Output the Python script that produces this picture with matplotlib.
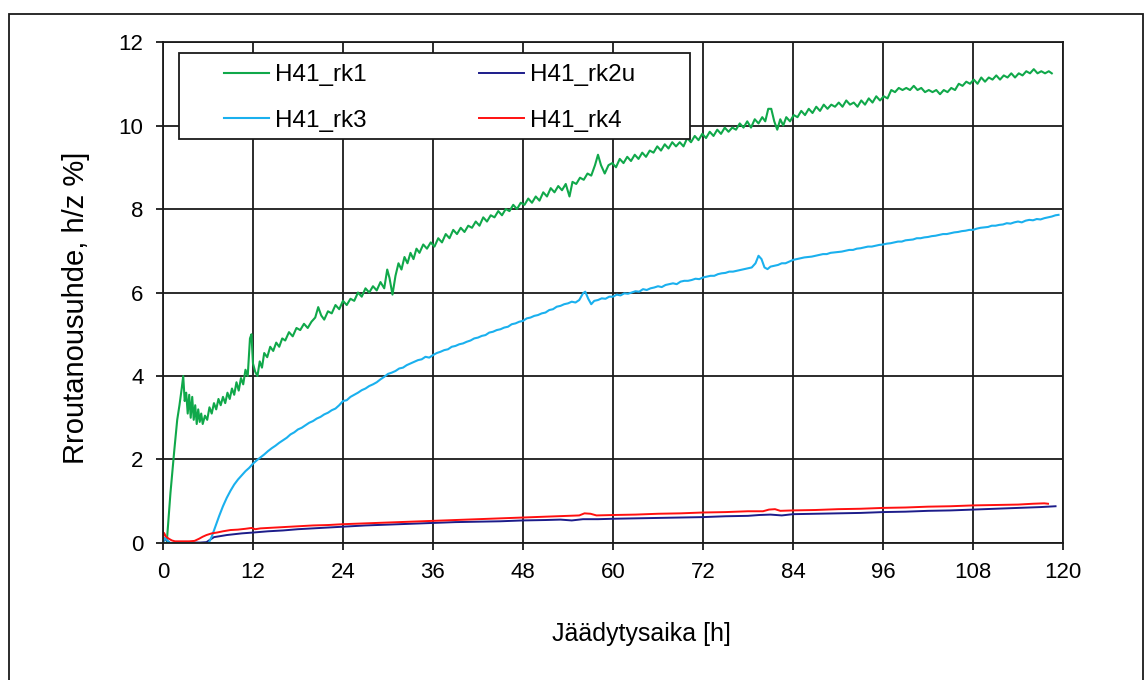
import matplotlib.pyplot as plt
from matplotlib.patches import Rectangle

# H41_rk1
rk1_x = [0.2, 0.5, 1.0, 1.5, 1.9, 2.2, 2.5, 2.7, 2.9, 3.1, 3.3, 3.5, 3.7, 3.9, 4.1, 4.3, 4.5, 4.7, 4.9, 5.1,
         5.3, 5.6, 5.9, 6.2, 6.5, 6.8, 7.1, 7.4, 7.7, 8.0, 8.3, 8.6, 8.9, 9.2, 9.5, 9.8, 10.1, 10.4, 10.7, 11.0,
         11.3, 11.6, 11.8, 12.0, 12.3, 12.6, 12.9, 13.2, 13.5, 13.9, 14.3, 14.7, 15.1, 15.5, 15.9, 16.3, 16.8, 17.3, 17.8, 18.3,
         18.8, 19.3, 19.8, 20.3, 20.7, 21.1, 21.5, 22.0, 22.5, 23.0, 23.5, 24.0, 24.5, 25.0, 25.5, 26.0, 26.5, 27.0, 27.5, 28.0,
         28.5, 29.0, 29.5, 29.9, 30.2, 30.6, 31.0, 31.4, 31.8, 32.2, 32.6, 33.0, 33.4, 33.8, 34.2, 34.7, 35.2, 35.7, 36.2, 36.7,
         37.2, 37.7, 38.2, 38.7, 39.2, 39.7, 40.2, 40.7, 41.2, 41.7, 42.2, 42.7, 43.2, 43.7, 44.2, 44.7, 45.2, 45.7, 46.2, 46.7,
         47.2, 47.7, 48.2, 48.7, 49.2, 49.7, 50.2, 50.7, 51.2, 51.7, 52.2, 52.7, 53.2, 53.7, 54.2, 54.6, 55.1, 55.6, 56.1, 56.6,
         57.1, 57.6, 58.0, 58.4, 58.9, 59.4, 59.9, 60.4, 60.9, 61.4, 61.9, 62.4, 62.9, 63.4, 63.9, 64.4, 64.9, 65.4, 65.9, 66.4,
         66.9, 67.4, 67.9, 68.4, 68.9, 69.4, 69.9, 70.4, 70.9, 71.4, 71.9, 72.4, 72.9, 73.4, 73.9, 74.4, 74.9, 75.4, 75.9, 76.4,
         76.9, 77.4, 77.9, 78.4, 78.9, 79.4, 79.9, 80.3, 80.7, 81.1, 81.5, 81.9, 82.3, 82.7, 83.1, 83.6, 84.1, 84.6, 85.1, 85.6,
         86.1, 86.6, 87.1, 87.6, 88.1, 88.6, 89.1, 89.6, 90.1, 90.6, 91.1, 91.6, 92.1, 92.6, 93.1, 93.6, 94.1, 94.6, 95.1, 95.6,
         96.1, 96.6, 97.1, 97.6, 98.1, 98.6, 99.1, 99.6, 100.1, 100.6, 101.1, 101.6, 102.1, 102.6, 103.1, 103.6, 104.1, 104.6, 105.1, 105.6,
         106.1, 106.6, 107.1, 107.6, 108.1, 108.6, 109.1, 109.6, 110.1, 110.6, 111.1, 111.6, 112.1, 112.6, 113.1, 113.6, 114.1, 114.6, 115.1, 115.6,
         116.1, 116.6, 117.1, 117.6, 118.1, 118.5]
rk1_y = [-0.05, 0.0, 1.2, 2.2, 2.95, 3.3, 3.7, 4.0, 3.4, 3.6, 3.1, 3.55, 3.0, 3.5, 2.95, 3.3, 2.85, 3.2, 2.9, 3.1,
         2.85, 3.05, 2.95, 3.25, 3.1, 3.35, 3.2, 3.45, 3.3, 3.5, 3.35, 3.6, 3.45, 3.7, 3.55, 3.85, 3.65, 3.95, 3.8, 4.15,
         4.0, 4.9, 5.0, 4.3, 4.1, 4.0, 4.35, 4.2, 4.55, 4.45, 4.7, 4.6, 4.8, 4.7, 4.9, 4.85, 5.05, 4.95, 5.15, 5.1,
         5.25, 5.15, 5.3, 5.4, 5.65, 5.45, 5.35, 5.55, 5.5, 5.7, 5.6, 5.8, 5.7, 5.85, 5.8, 6.0, 5.9, 6.1, 6.0, 6.15,
         6.05, 6.25, 6.1, 6.55, 6.35, 5.95, 6.4, 6.7, 6.55, 6.85, 6.7, 6.95, 6.8, 7.05, 6.95, 7.15, 7.05, 7.2, 7.1, 7.3,
         7.2, 7.4, 7.3, 7.5, 7.4, 7.55, 7.45, 7.6, 7.55, 7.7, 7.6, 7.8, 7.7, 7.85, 7.8, 7.95, 7.85, 8.0, 7.95, 8.1,
         8.0, 8.15, 8.1, 8.25, 8.15, 8.3, 8.2, 8.4, 8.3, 8.5, 8.4, 8.55, 8.45, 8.6, 8.3, 8.65, 8.6, 8.75, 8.7, 8.85,
         8.8, 9.05, 9.3, 9.05, 8.85, 9.05, 9.1, 9.0, 9.2, 9.1, 9.25, 9.15, 9.3, 9.2, 9.35, 9.25, 9.4, 9.35, 9.5, 9.4,
         9.55, 9.45, 9.6, 9.5, 9.6, 9.5, 9.7, 9.6, 9.75, 9.65, 9.8, 9.7, 9.85, 9.75, 9.9, 9.8, 9.95, 9.85, 9.95, 9.9,
         10.05, 9.95, 10.1, 9.95, 10.15, 10.05, 10.2, 10.1, 10.4, 10.4, 10.1, 9.9, 10.15, 10.0, 10.2, 10.1, 10.25, 10.2, 10.35, 10.25,
         10.4, 10.3, 10.45, 10.35, 10.5, 10.4, 10.5, 10.45, 10.55, 10.45, 10.6, 10.5, 10.55, 10.45, 10.6, 10.5, 10.65, 10.55, 10.7, 10.6,
         10.7, 10.65, 10.85, 10.8, 10.9, 10.85, 10.9, 10.85, 10.95, 10.85, 10.9, 10.8, 10.85, 10.8, 10.85, 10.75, 10.85, 10.8, 10.9, 10.85,
         11.0, 10.95, 11.05, 11.0, 11.1, 11.0, 11.15, 11.05, 11.15, 11.1, 11.2, 11.1, 11.2, 11.15, 11.25, 11.15, 11.25, 11.2, 11.3, 11.25,
         11.35, 11.25, 11.3, 11.25, 11.3, 11.25]

# H41_rk2u
rk2u_x = [0.0, 0.3, 0.7, 1.2, 2.0, 3.0, 4.0, 5.0, 5.8, 6.3, 6.8, 7.5, 8.5, 9.5, 10.5, 12.0, 14.0, 16.0, 18.0, 20.0,
          22.0, 24.0, 27.0, 30.0, 33.0, 36.0, 39.0, 42.0, 45.0, 48.0, 51.0, 53.0, 54.5, 56.0, 58.0, 60.0, 63.0, 66.0, 69.0, 72.0,
          75.0, 78.0, 79.5, 81.0, 82.5, 84.0, 87.0, 90.0, 93.0, 96.0, 99.0, 102.0, 105.0, 108.0, 111.0, 114.0, 117.0, 119.0]
rk2u_y = [0.02, 0.1, 0.03, -0.02, 0.0, 0.01, 0.01, 0.01, 0.02, 0.08, 0.14, 0.16, 0.19, 0.21, 0.23, 0.25, 0.28, 0.3, 0.33, 0.35,
          0.37, 0.39, 0.42, 0.44, 0.46, 0.48, 0.5, 0.51, 0.52, 0.54, 0.55, 0.56, 0.54, 0.57, 0.57, 0.58, 0.59, 0.6, 0.61, 0.62,
          0.64, 0.65, 0.67, 0.68, 0.66, 0.69, 0.7, 0.71, 0.72, 0.74, 0.75, 0.77, 0.78, 0.8, 0.82, 0.84, 0.86, 0.88]

# H41_rk3
rk3_x = [0.0, 0.2, 0.5, 0.9, 1.5, 3.0, 4.5, 5.5, 6.1, 6.5, 7.0, 7.5, 8.0, 8.5, 9.0, 9.5, 10.0, 10.5, 11.0, 11.5,
         12.0, 12.5, 13.0, 13.5, 14.0, 14.5, 15.0, 15.5, 16.0, 16.5, 17.0, 17.5, 18.0, 18.5, 19.0, 19.5, 20.0, 20.5, 21.0, 21.5,
         22.0, 22.5, 23.0, 23.5, 24.0, 24.5, 25.0, 25.5, 26.0, 26.5, 27.0, 27.5, 28.0, 28.5, 29.0, 29.5, 30.0, 30.5, 31.0, 31.5,
         32.0, 32.5, 33.0, 33.5, 34.0, 34.5, 35.0, 35.5, 36.0, 36.5, 37.0, 37.5, 38.0, 38.5, 39.0, 39.5, 40.0, 40.5, 41.0, 41.5,
         42.0, 42.5, 43.0, 43.5, 44.0, 44.5, 45.0, 45.5, 46.0, 46.5, 47.0, 47.5, 48.0, 48.5, 49.0, 49.5, 50.0, 50.5, 51.0, 51.5,
         52.0, 52.5, 53.0, 53.5, 54.0, 54.5, 55.0, 55.5, 56.0, 56.3, 56.7, 57.1, 57.5, 58.0, 58.5, 59.0, 59.5, 60.0, 60.5, 61.0,
         61.5, 62.0, 62.5, 63.0, 63.5, 64.0, 64.5, 65.0, 65.5, 66.0, 66.5, 67.0, 67.5, 68.0, 68.5, 69.0, 69.5, 70.0, 70.5, 71.0,
         71.5, 72.0, 72.5, 73.0, 73.5, 74.0, 74.5, 75.0, 75.5, 76.0, 76.5, 77.0, 77.5, 78.0, 78.5, 79.0, 79.4, 79.8, 80.2, 80.6,
         81.0, 81.5, 82.0, 82.5, 83.0, 83.5, 84.0, 84.5, 85.0, 85.5, 86.0, 86.5, 87.0, 87.5, 88.0, 88.5, 89.0, 89.5, 90.0, 90.5,
         91.0, 91.5, 92.0, 92.5, 93.0, 93.5, 94.0, 94.5, 95.0, 95.5, 96.0, 96.5, 97.0, 97.5, 98.0, 98.5, 99.0, 99.5, 100.0, 100.5,
         101.0, 101.5, 102.0, 102.5, 103.0, 103.5, 104.0, 104.5, 105.0, 105.5, 106.0, 106.5, 107.0, 107.5, 108.0, 108.5, 109.0, 109.5, 110.0, 110.5,
         111.0, 111.5, 112.0, 112.5, 113.0, 113.5, 114.0, 114.5, 115.0, 115.5, 116.0, 116.5, 117.0, 117.5, 118.0, 118.5, 119.0, 119.4]
rk3_y = [0.0, 0.12, 0.08, 0.0, 0.0, 0.0, -0.01, -0.02, 0.0, 0.15, 0.4, 0.65, 0.88, 1.08, 1.25, 1.4, 1.52, 1.62, 1.72, 1.8,
         1.9, 1.98, 2.05, 2.12, 2.2, 2.27, 2.33, 2.4, 2.46, 2.52, 2.6, 2.65, 2.72, 2.76, 2.82, 2.88, 2.92, 2.98, 3.02, 3.08,
         3.12, 3.18, 3.22, 3.3, 3.4, 3.42, 3.5, 3.55, 3.6, 3.66, 3.7, 3.76, 3.8, 3.85, 3.92, 3.98, 4.05, 4.08, 4.12, 4.18,
         4.2, 4.26, 4.3, 4.34, 4.38, 4.4, 4.46, 4.44, 4.5, 4.55, 4.58, 4.62, 4.64, 4.7, 4.72, 4.76, 4.78, 4.82, 4.85, 4.9,
         4.92, 4.96, 4.98, 5.04, 5.06, 5.1, 5.12, 5.16, 5.18, 5.24, 5.26, 5.3, 5.32, 5.38, 5.4, 5.44, 5.46, 5.5, 5.52, 5.58,
         5.6, 5.66, 5.68, 5.72, 5.74, 5.78, 5.76, 5.82, 5.98, 6.02, 5.85, 5.72, 5.8, 5.82, 5.86, 5.85, 5.9, 5.9, 5.95, 5.93,
         5.98, 5.97, 6.0, 6.03, 6.02, 6.08, 6.06, 6.1, 6.12, 6.15, 6.13, 6.18, 6.2, 6.22, 6.2, 6.26, 6.28, 6.28, 6.3, 6.33,
         6.32, 6.36, 6.38, 6.4, 6.4, 6.44, 6.46, 6.47, 6.5, 6.5, 6.52, 6.54, 6.56, 6.58, 6.6, 6.7, 6.88, 6.8, 6.6, 6.56,
         6.62, 6.64, 6.66, 6.7, 6.7, 6.74, 6.78, 6.8, 6.82, 6.84, 6.85, 6.86, 6.88, 6.9, 6.92, 6.92, 6.95, 6.96, 6.97, 6.98,
         7.0, 7.02, 7.02, 7.05, 7.06, 7.08, 7.1, 7.1, 7.12, 7.14, 7.15, 7.17, 7.18, 7.2, 7.22, 7.22, 7.25, 7.26, 7.27, 7.3,
         7.3, 7.32, 7.33, 7.35, 7.36, 7.38, 7.4, 7.4, 7.42, 7.44, 7.45, 7.47, 7.48, 7.5, 7.5, 7.53, 7.55, 7.56, 7.57, 7.6,
         7.6, 7.62, 7.63, 7.66, 7.65, 7.68, 7.7, 7.68, 7.72, 7.74, 7.73, 7.76, 7.75, 7.78, 7.8, 7.82, 7.85, 7.86]

# H41_rk4
rk4_x = [0.0, 0.15, 0.4, 0.8, 1.2, 1.6, 2.5, 3.5, 4.2, 4.8, 5.3, 5.8, 6.5, 7.2, 8.0, 9.0, 10.0, 11.0, 11.8, 12.3,
         13.0, 14.0, 16.0, 18.0, 20.0, 22.0, 24.0, 27.0, 30.0, 33.0, 36.0, 39.0, 42.0, 45.0, 48.0, 51.0, 54.0, 55.5, 56.2, 57.0,
         57.8, 60.0, 63.0, 66.0, 69.0, 72.0, 75.0, 78.0, 80.0, 80.8, 81.6, 82.3, 84.0, 87.0, 90.0, 93.0, 96.0, 99.0, 102.0, 105.0,
         108.0, 111.0, 114.0, 116.0, 117.5, 118.0]
rk4_y = [0.12, 0.24, 0.15, 0.1, 0.06, 0.04, 0.04, 0.04, 0.05, 0.1, 0.15, 0.19, 0.23, 0.25, 0.28, 0.31, 0.32, 0.34, 0.36, 0.33,
         0.35, 0.36, 0.38, 0.4, 0.42, 0.43, 0.45, 0.47, 0.49, 0.51, 0.53, 0.55, 0.57, 0.59, 0.61, 0.63, 0.65, 0.66, 0.71, 0.7,
         0.66, 0.67, 0.68, 0.7, 0.71, 0.73, 0.74, 0.76, 0.76, 0.8, 0.81, 0.77, 0.78, 0.79, 0.81, 0.82, 0.84, 0.85, 0.87, 0.88,
         0.9, 0.91, 0.92, 0.94, 0.95, 0.94]

x_ticks = [0, 12, 24, 36, 48, 60, 72, 84, 96, 108, 120]
y_ticks = [0, 2, 4, 6, 8, 10, 12]

plt.rcParams['font.family'] = ['Liberation Sans', 'DejaVu Sans']

fig = plt.figure(figsize=(11.46, 6.8), dpi=100)
ax = fig.add_axes([0.1422, 0.2015, 0.7854, 0.7367])

l1, = ax.plot(rk1_x, rk1_y, color='#10A84A', lw=1.5, label='H41_rk1')
l2, = ax.plot(rk2u_x, rk2u_y, color='#1C1C8A', lw=1.4, label='H41_rk2u')
l3, = ax.plot(rk3_x, rk3_y, color='#1AB0EE', lw=1.5, label='H41_rk3')
l4, = ax.plot(rk4_x, rk4_y, color='#FF1010', lw=1.4, label='H41_rk4')

ax.set_xlim(0, 120)
ax.set_ylim(0, 12)
ax.set_xticks(x_ticks)
ax.set_yticks(y_ticks)
ax.grid(True, color='#1a1a1a', lw=1.3)
ax.set_axisbelow(True)
for s in ax.spines.values():
    s.set_color('#1a1a1a')
    s.set_linewidth(1.3)
ax.tick_params(direction='out', length=5, width=1.3, color='#1a1a1a', labelsize=16, pad=9)

ax.set_xlabel('Jäädytysaika [h]', fontsize=18)
ax.xaxis.set_label_coords(0.532, -0.157)
ax.set_ylabel('Rroutanousuhde, h/z %]', fontsize=21)
ax.yaxis.set_label_coords(-0.081, 0.47)

# legend box drawn by hand so the padding matches
ax.add_patch(Rectangle((0.0178, 0.806), 0.5678, 0.172, transform=ax.transAxes,
                       facecolor='white', edgecolor='#1a1a1a', lw=1.3, zorder=5))
leg = ax.legend([l1, l3, l2, l4], ['H41_rk1', 'H41_rk3', 'H41_rk2u', 'H41_rk4'],
                ncol=2, loc='upper left', bbox_to_anchor=(0.068, 0.956), frameon=False,
                fontsize=17.5, handlelength=1.85, handletextpad=0.25, columnspacing=4.62,
                labelspacing=0.98, borderpad=0, borderaxespad=0)
leg.set_zorder(6)

# outer frame around the figure
fig.patches.append(Rectangle((9 / 1146, -0.01), 1134 / 1146, 0.9997 - 7 / 680, transform=fig.transFigure,
                             fill=False, edgecolor='#1a1a1a', lw=1.3))

fig.savefig('out.png', dpi=100)
